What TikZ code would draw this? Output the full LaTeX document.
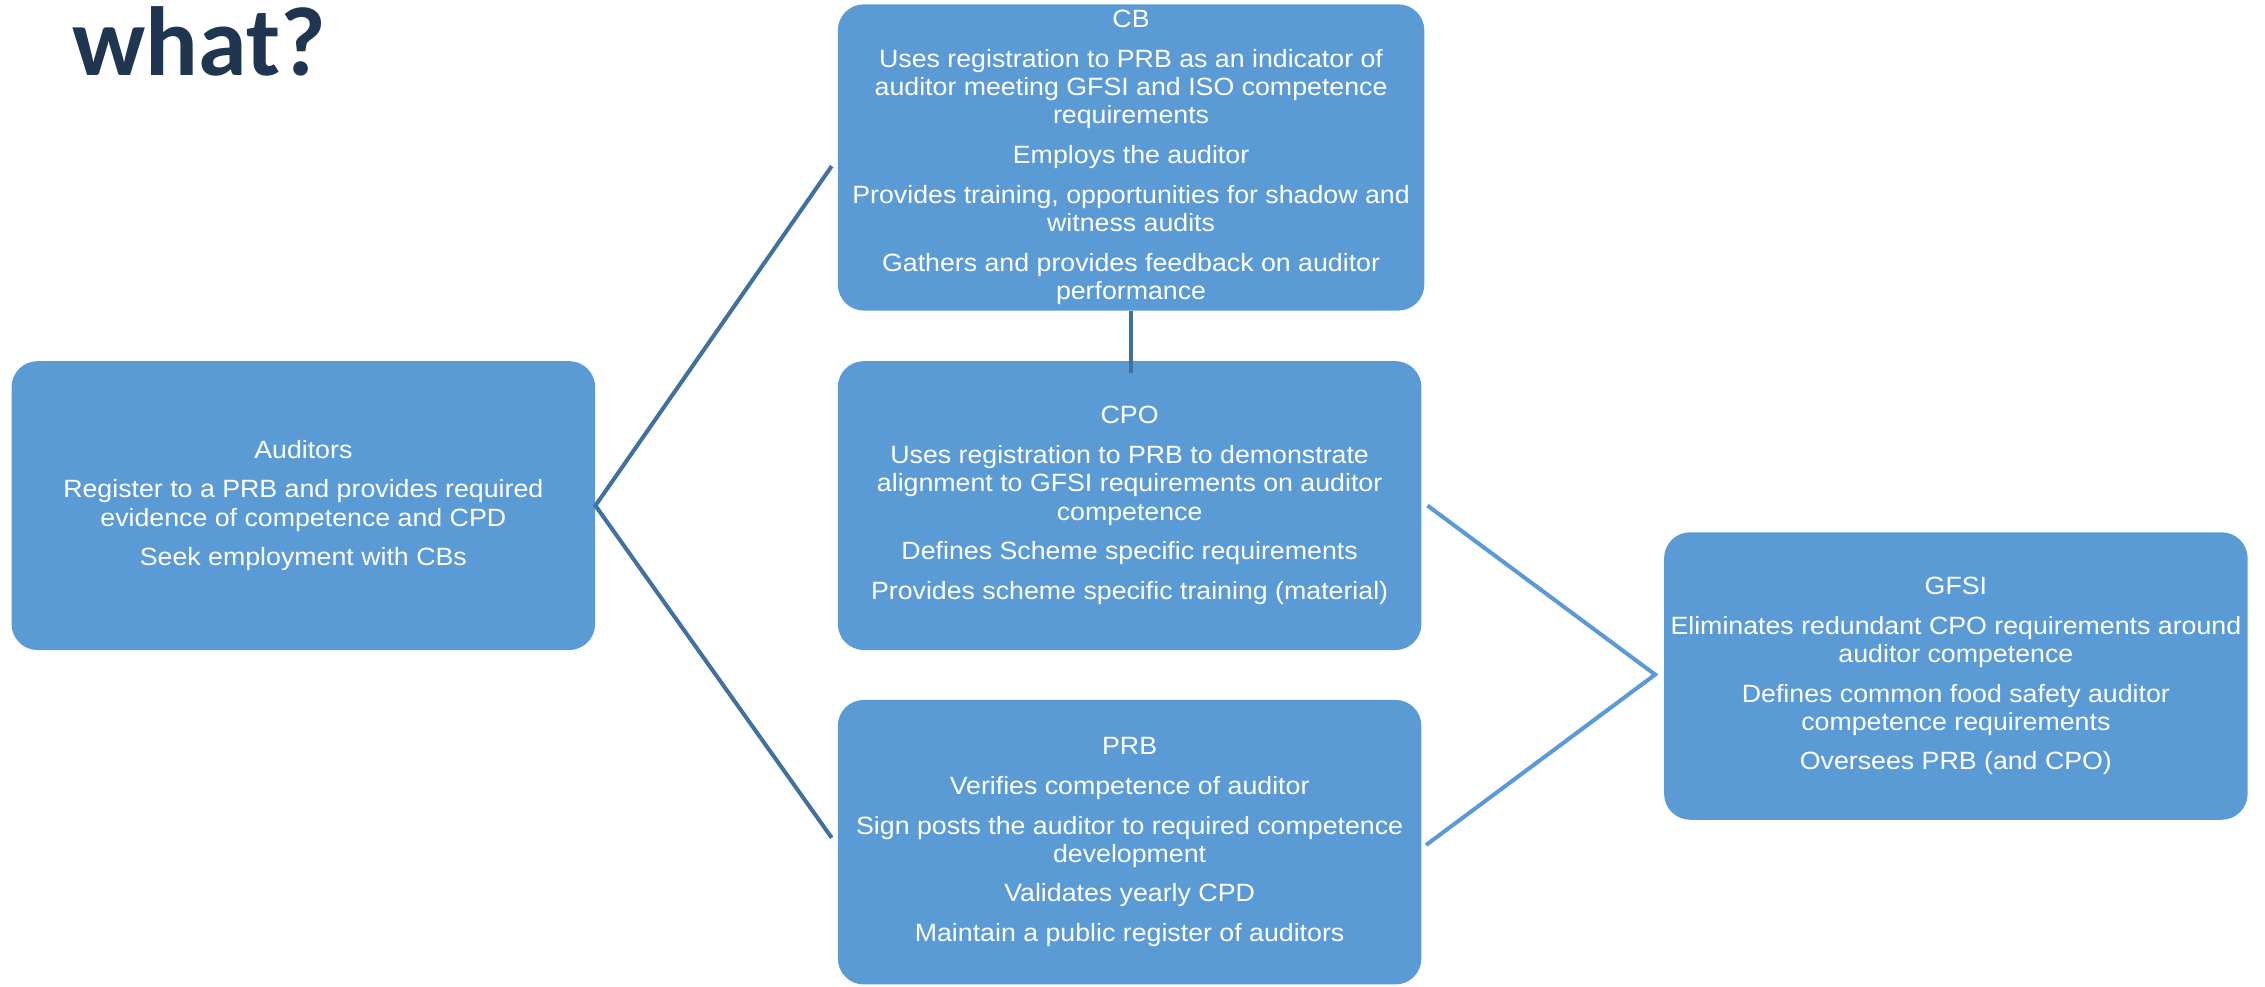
\documentclass[tikz,border=0pt]{standalone}
\usepackage{fontspec}
\setmainfont{Liberation Sans}[FakeStretch=1.07]
\newfontfamily\titlefont{Carlito}
\usetikzlibrary{positioning, calc}
\definecolor{boxblue}{HTML}{5B9BD5}
\definecolor{linkdark}{HTML}{41719C}
\definecolor{titlenavy}{HTML}{1F3550}

\begin{document}
\begin{tikzpicture}[x=1pt, y=-1pt,
    box/.style={rectangle, rounded corners=18pt, fill=boxblue, text=white, align=center,
      inner sep=0pt, minimum width=404pt, font=\fontsize{17.3}{19.5}\selectfont},
    darklink/.style={draw=linkdark, line width=2.8pt},
    lightlink/.style={draw=boxblue, line width=2.8pt}]

      \useasboundingbox (0,0) rectangle (1568,683);

      \node[anchor=base west, inner sep=0pt, text=titlenavy,
        font=\titlefont\bfseries\fontsize{68}{68}\selectfont] (title) at (50,52) {what?};

      % the five parties
      \node[box, minimum height=200pt] (aud) at (210,350) {Auditors\\[8pt]
        Register to a PRB and provides required\\evidence of competence and CPD\\[8pt]
        Seek employment with CBs};
      \node[box, minimum width=406pt, minimum height=212pt] (cb) at (783,109) {CB\\[8pt]
        Uses registration to PRB as an indicator of\\auditor meeting GFSI and ISO competence\\requirements\\[8pt]
        Employs the auditor\\[8pt]
        Provides training, opportunities for shadow and\\witness audits\\[8pt]
        Gathers and provides feedback on auditor\\performance};
      \node[box, minimum height=200pt] (cpo) at (782,350) {CPO\\[8pt]
        Uses registration to PRB to demonstrate\\alignment to GFSI requirements on auditor\\competence\\[8pt]
        Defines Scheme specific requirements\\[8pt]
        Provides scheme specific training (material)};
      \node[box, minimum height=197pt] (prb) at (782,583) {PRB\\[8pt]
        Verifies competence of auditor\\[8pt]
        Sign posts the auditor to required competence\\development\\[8pt]
        Validates yearly CPD\\[8pt]
        Maintain a public register of auditors};
      \node[box, minimum height=199pt] (gfsi) at (1354,468) {GFSI\\[8pt]
        Eliminates redundant CPO requirements around\\auditor competence\\[8pt]
        Defines common food safety auditor\\competence requirements\\[8pt]
        Oversees PRB (and CPO)};

      % bracket ends
      \coordinate (cbin) at ($(cb.west)+(-4,6)$);
      \coordinate (prbin) at ($(prb.west)+(-4,-3)$);
      \coordinate (cpoout) at ($(cpo.east)+(4,0)$);
      \coordinate (prbout) at ($(prb.east)+(3,2)$);
      \coordinate (gfsiin) at ($(gfsi.west)+(-6,-1)$);

      \draw[darklink] (cbin) -- (aud.east) -- (prbin);
      \draw[darklink] (cb.south) -- ++(0,43);
      \draw[lightlink] (cpoout) -- (gfsiin) -- (prbout);
    \end{tikzpicture}
\end{document}
